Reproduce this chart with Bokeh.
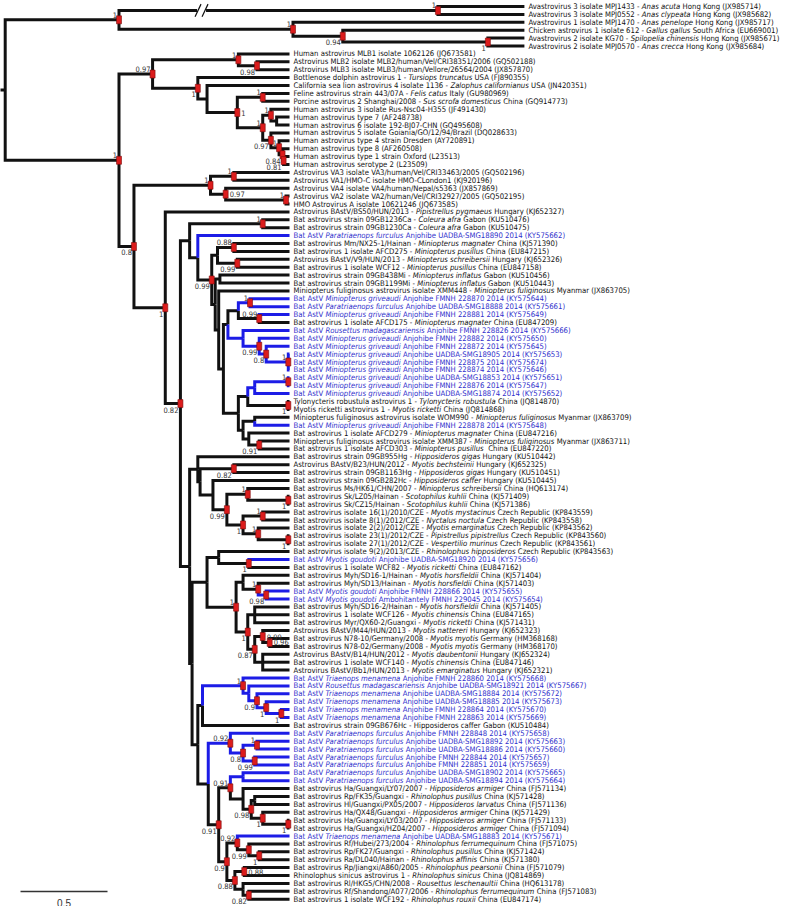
import os
import subprocess
from bokeh.plotting import figure
from bokeh.models import Range1d, ColumnDataSource
from bokeh.embed import file_html
from bokeh.resources import INLINE
from bokeh.core.properties import value

# ------------------------------------------------------------------ data
# tip labels (text between * * is the italic host species)
avian_labels = [
    "Avastrovirus 3 isolate MPJ1433 - *Anas acuta* Hong Kong (JX985714)",
    "Avastrovirus 3 isolate MPJ0552 - *Anas clypeata* Hong Kong (JX985682)",
    "Avastrovirus 1 isolate MPJ1470 - *Anas penelope* Hong Kong (JX985717)",
    "Chicken astrovirus 1 isolate 612 - *Gallus gallus* South Africa (EU669001)",
    "Avastrovirus 2 isolate KG70 - *Spilopelia chinensis* Hong Kong (JX985671)",
    "Avastrovirus 2 isolate MPJ0570 - *Anas crecca* Hong Kong (JX985684)",
]
classic_labels = [
    "Human astrovirus MLB1 isolate 1062126 (JQ673581)",
    "Astrovirus MLB2 isolate MLB2/human/Vel/CRI38351/2006 (GQ502188)",
    "Astrovirus MLB3 isolate MLB3/human/Vellore/26564/2004 (JX857870)",
    "Bottlenose dolphin astrovirus 1 - *Tursiops truncatus* USA (FJ890355)",
    "California sea lion astrovirus 4 isolate 1136 - *Zalophus californianus* USA (JN420351)",
    "Feline astrovirus strain 443/07A - *Felis catus* Italy (GU980969)",
    "Porcine astrovirus 2 Shanghai/2008 - *Sus scrofa domesticus* China (GQ914773)",
    "Human astrovirus 3 isolate Rus-Nsc04-H355 (JF491430)",
    "Human astrovirus type 7 (AF248738)",
    "Human astrovirus 6 isolate 192-BJ07-CHN (GQ495608)",
    "Human astrovirus 5 isolate Goiania/GO/12/94/Brazil (DQ028633)",
    "Human astrovirus type 4 strain Dresden (AY720891)",
    "Human astrovirus type 8 (AF260508)",
    "Human astrovirus type 1 strain Oxford (L23513)",
    "Human astrovirus serotype 2 (L23509)",
    "Astrovirus VA3 isolate VA3/human/Vel/CRI33463/2005 (GQ502196)",
    "Astrovirus VA1/HMO-C isolate HMO-CLondon1 (KJ920196)",
    "Astrovirus VA4 isolate VA4/human/Nepal/s5363 (JX857869)",
    "Astrovirus VA2 isolate VA2/human/Vel/CRI32927/2005 (GQ502195)",
    "HMO Astrovirus A isolate 10621246 (JQ673585)",
]
bat_labels_a = [
    "Astrovirus BAstV/BS50/HUN/2013 - *Pipistrellus pygmaeus* Hungary (KJ652327)",
    "Bat astrovirus strain 09GB1236Ca - *Coleura afra* Gabon (KU510476)",
    "Bat astrovirus strain 09GB1230Ca - *Coleura afra* Gabon (KU510475)",
    "Bat AstV *Paratriaenops furculus* Anjohibe UADBA-SMG18890 2014 (KY575662)",
    "Bat astrovirus Mm/NX25-1/Hainan - *Miniopterus magnater* China (KJ571390)",
    "Bat astrovirus 1 isolate AFCD275 - *Miniopterus pusillus* China (EU847215)",
    "Astrovirus BAstV/V9/HUN/2013 - *Miniopterus schreibersii* Hungary (KJ652326)",
    "Bat astrovirus 1 isolate WCF12 - *Miniopterus pusillus* China (EU847158)",
    "Bat astrovirus strain 09GB438Mi - *Miniopterus inflatus* Gabon (KU510456)",
    "Bat astrovirus strain 09GB1199Mi - *Miniopterus inflatus* Gabon (KU510443)",
    "Miniopterus fuliginosus astrovirus isolate XMM448 - *Miniopterus fuliginosus* Myanmar (JX863705)",
    "Bat AstV *Miniopterus griveaudi* Anjohibe FMNH 228870 2014 (KY575644)",
    "Bat AstV *Paratriaenops furculus* Anjohibe UADBA-SMG18888 2014 (KY575661)",
    "Bat AstV *Miniopterus griveaudi* Anjohibe FMNH 228881 2014 (KY575649)",
    "Bat astrovirus 1 isolate AFCD175 - *Miniopterus magnater* China (EU847209)",
    "Bat AstV *Rousettus madagascariensis* Anjohibe FMNH 228826 2014 (KY575666)",
    "Bat AstV *Miniopterus griveaudi* Anjohibe FMNH 228882 2014 (KY575650)",
    "Bat AstV *Miniopterus griveaudi* Anjohibe FMNH 228872 2014 (KY575645)",
    "Bat AstV *Miniopterus griveaudi* Anjohibe UADBA-SMG18905 2014 (KY575653)",
    "Bat AstV *Miniopterus griveaudi* Anjohibe FMNH 228875 2014 (KY575674)",
    "Bat AstV *Miniopterus griveaudi* Anjohibe FMNH 228874 2014 (KY575646)",
    "Bat AstV *Miniopterus griveaudi* Anjohibe UADBA-SMG18853 2014 (KY575651)",
    "Bat AstV *Miniopterus griveaudi* Anjohibe FMNH 228876 2014 (KY575647)",
    "Bat AstV *Miniopterus griveaudi* Anjohibe UADBA-SMG18874 2014 (KY575652)",
    "Tylonycteris robustula astrovirus 1 - *Tylonycteris robustula* China (JQ814870)",
    "Myotis ricketti astrovirus 1 - *Myotis ricketti* China (JQ814868)",
    "Miniopterus fuliginosus astrovirus isolate WOM990 - *Miniopterus fuliginosus* Myanmar (JX863709)",
    "Bat AstV *Miniopterus griveaudi* Anjohibe FMNH 228878 2014 (KY575648)",
    "Bat astrovirus 1 isolate AFCD279 - *Miniopterus magnater* China (EU847216)",
    "Miniopterus fuliginosus astrovirus isolate XMM387 - *Miniopterus fuliginosus* Myanmar (JX863711)",
    "Bat astrovirus 1 isolate AFCD303 - *Miniopterus pusillus*  China (EU847220)",
]
bat_labels_b = [
    "Bat astrovirus strain 09GB955Hg - *Hipposideros gigas* Hungary (KU510442)",
    "Astrovirus BAstV/B23/HUN/2012 - *Myotis bechsteinii* Hungary (KJ652325)",
    "Bat astrovirus strain 09GB1163Hg - *Hipposideros gigas* Hungary (KU510451)",
    "Bat astrovirus strain 09GB282Hc - *Hipposideros caffer* Hungary (KU510445)",
    "Bat astrovirus Ms/HK61/CHN/2007 - *Miniopterus schreibersii* China (HQ613174)",
    "Bat astrovirus Sk/LZ05/Hainan - *Scotophilus kuhlii* China (KJ571409)",
    "Bat astrovirus Sk/CZ15/Hainan - *Scotophilus kuhlii* China (KJ571386)",
    "Bat astrovirus isolate 16(1)/2010/CZE - *Myotis mystacinus* Czech Republic (KP843559)",
    "Bat astrovirus isolate 8(1)/2012/CZE - *Nyctalus noctula* Czech Republic (KP843558)",
    "Bat astrovirus isolate 2(2)/2012/CZE - *Myotis emarginatus* Czech Republic (KP843562)",
    "Bat astrovirus isolate 23(1)/2012/CZE - *Pipistrellus pipistrellus* Czech Republic (KP843560)",
    "Bat astrovirus isolate 27(1)/2012/CZE - *Vespertilio murinus* Czech Republic (KP843561)",
    "Bat astrovirus isolate 9(2)/2013/CZE - *Rhinolophus hipposideros* Czech Republic (KP843563)",
    "Bat AstV *Myotis goudoti* Anjohibe UADBA-SMG18920 2014 (KY575656)",
    "Bat astrovirus 1 isolate WCF82 - *Myotis ricketti* China (EU847162)",
    "Bat astrovirus Myh/SD16-1/Hainan - *Myotis horsfieldii* China (KJ571404)",
    "Bat astrovirus Myh/SD13/Hainan - *Myotis horsfieldii* China (KJ571403)",
    "Bat AstV *Myotis goudoti* Anjohibe FMNH 228866 2014 (KY575655)",
    "Bat AstV *Myotis goudoti* Ambohitantely FMNH 229045 2014 (KY575654)",
    "Bat astrovirus Myh/SD16-2/Hainan - *Myotis horsfieldii* China (KJ571405)",
    "Bat astrovirus 1 isolate WCF126 - *Myotis chinensis* China (EU847165)",
    "Bat astrovirus Myr/QX60-2/Guangxi - *Myotis ricketti* China (KJ571431)",
    "Astrovirus BAstV/M44/HUN/2013 - *Myotis nattereri* Hungary (KJ652323)",
    "Bat astrovirus N78-10/Germany/2008 - *Myotis myotis* Germany (HM368168)",
    "Bat astrovirus N78-02/Germany/2008 - *Myotis myotis* Germany (HM368170)",
    "Astrovirus BAstV/B14/HUN/2012 - *Myotis daubentonii* Hungary (KJ652324)",
    "Bat astrovirus 1 isolate WCF140 - *Myotis chinensis* China (EU847146)",
    "Astrovirus BAstV/Bb1/HUN/2013 - *Myotis emarginatus* Hungary (KJ652321)",
]
bat_labels_c = [
    "Bat AstV *Triaenops menamena* Anjohibe FMNH 228860 2014 (KY575668)",
    "Bat AstV *Rousettus madagascariensis* Anjohibe UADBA-SMG18921 2014 (KY575667)",
    "Bat AstV *Triaenops menamena* Anjohibe UADBA-SMG18884 2014 (KY575672)",
    "Bat AstV *Triaenops menamena* Anjohibe UADBA-SMG18885 2014 (KY575673)",
    "Bat AstV *Triaenops menamena* Anjohibe FMNH 228864 2014 (KY575670)",
    "Bat AstV *Triaenops menamena* Anjohibe FMNH 228863 2014 (KY575669)",
    "Bat astrovirus strain 09GB676Hc - Hipposideros caffer Gabon (KU510484)",
    "Bat AstV *Paratriaenops furculus* Anjohibe FMNH 228848 2014 (KY575658)",
    "Bat AstV *Paratriaenops furculus* Anjohibe UADBA-SMG18892 2014 (KY575663)",
    "Bat AstV *Paratriaenops furculus* Anjohibe UADBA-SMG18886 2014 (KY575660)",
    "Bat AstV *Paratriaenops furculus* Anjohibe FMNH 228844 2014 (KY575657)",
    "Bat AstV *Paratriaenops furculus* Anjohibe FMNH 228851 2014 (KY575659)",
    "Bat AstV *Paratriaenops furculus* Anjohibe UADBA-SMG18902 2014 (KY575665)",
    "Bat AstV *Paratriaenops furculus* Anjohibe UADBA-SMG18894 2014 (KY575664)",
    "Bat astrovirus Ha/Guangxi/LY07/2007 - *Hipposideros armiger* China (FJ571134)",
    "Bat astrovirus Rp/FK35/Guangxi - *Rhinolophus pusillus* China (KJ571428)",
    "Bat astrovirus Hl/Guangxi/PX05/2007 - *Hipposideros larvatus* China (FJ571136)",
    "Bat astrovirus Ha/QX48/Guangxi - *Hipposideros armiger* China (KJ571429)",
    "Bat astrovirus Ha/Guangxi/LY03/2007 - *Hipposideros armiger* China (FJ571133)",
    "Bat astrovirus Ha/Guangxi/HZ04/2007 - *Hipposideros armiger* China (FJ571094)",
    "Bat AstV *Triaenops menamena* Anjohibe UADBA-SMG18883 2014 (KY575671)",
    "Bat astrovirus Rf/Hubei/273/2004 - *Rhinolophus ferrumequinum* China (FJ571075)",
    "Bat astrovirus Rp/FK27/Guangxi - *Rhinolophus pusillus* China (KJ571424)",
    "Bat astrovirus Ra/DL040/Hainan - *Rhinolophus affinis* China (KJ571380)",
    "Bat astrovirus Rp/Jiangxi/A860/2005 - *Rhinolophus pearsonii* China (FJ571079)",
    "Rhinolophus sinicus astrovirus 1 - *Rhinolophus sinicus* China (JQ814869)",
    "Bat astrovirus Rl/HKG5/CHN/2008 - *Rousettus leschenaultii* China (HQ613178)",
    "Bat astrovirus Rf/Shandong/A077/2006 - *Rhinolophus ferrumequinum* China (FJ571083)",
    "Bat astrovirus 1 isolate WCF192 - *Rhinolophus rouxii* China (EU847174)",
]

# tip depths (substitutions/site, measured with the 0.5 scale bar)
avian_tip_depth = 3.06
mammal_tip_depth = 1.707

# internal nodes: (id, depth, children, posterior, label side)
# children: int = tip number (1-based, top to bottom), str = node id
avian_nodes = [
    ("R", 0.073, ["AV", "MA"], "", ""),
    ("AV", 0.727, ["AV3", "AV12"], "1", "a"),
    ("AV3", 2.560, [1, 2], "1", "a"),
    ("AV12", 1.727, [3, "AV094"], "1", "a"),
    ("AV094", 2.013, [4, "AV2"], "0.94", "b"),
    ("AV2", 2.847, [5, 6], "1", "b"),
]
classic_nodes = [
    ("MA", 0.727, ["C097", "C08"], "1", "a"),
    ("C097", 0.920, ["MLB", "CA"], "0.97", "a"),
    ("MLB", 1.413, [7, "MLB23"], "1", "a"),
    ("MLB23", 1.520, [8, 9], "0.98", "b"),
    ("CA", 1.180, [10, "CB"], "1", "b"),
    ("CB", 1.233, [11, "CC"], "", ""),
    ("CC", 1.407, ["CD", "CE"], "1", "r"),
    ("CD", 1.553, [12, 13], "1", "a"),
    ("CE", 1.553, ["CF", "CH"], "1", "a"),
    ("CF", 1.600, [14, "CG"], "1", "a"),
    ("CG", 1.633, [15, 16], "", ""),
    ("CH", 1.600, [17, "CI"], "0.97", "b"),
    ("CI", 1.647, [18, "CJ"], "1", "a"),
    ("CJ", 1.667, [19, "CK"], "0.84", "b"),
    ("CK", 1.673, [20, 21], "0.81", "b"),
]
va_nodes = [
    ("C08", 0.813, ["VA", "B1"], "0.8", "b"),
    ("VA", 1.253, ["VA31", "VA097"], "1", "a"),
    ("VA31", 1.387, [22, 23], "1", "a"),
    ("VA097", 1.340, [24, "VA2H"], "0.97", "r"),
    ("VA2H", 1.687, [25, 26], "1", "a"),
    ("B1", 0.993, [27, "B082"], "1", "b"),
    ("B082", 1.080, ["BU", "BL"], "0.82", "b"),
]
mini_nodes = [
    ("BU", 1.133, ["COL", "BZ"], "", ""),
    ("COL", 1.553, [28, 29], "1", "a"),
    ("BZ", 1.180, [30, "B099a"], "", ""),
    ("B099a", 1.260, ["BQ", "BR2"], "0.99", "b"),
    ("BQ", 1.293, ["B088", "B099b"], "", ""),
    ("B088", 1.387, [31, 32], "0.88", "a"),
    ("B099b", 1.407, [33, 34], "0.99", "b"),
    ("BR2", 1.280, ["BR", "BT"], "", ""),
    ("BR", 1.307, [35, 36], "", ""),
    ("BT", 1.300, [37, "BT2"], "", ""),
    ("BT2", 1.327, ["BA", "BD"], "", ""),
    ("BA", 1.353, ["BB", "BC"], "", ""),
    ("BB", 1.413, ["X3839", "X4041"], "", ""),
    ("X3839", 1.480, [38, 39], "1", "a"),
    ("X4041", 1.533, [40, 41], "0.99", "a"),
    ("BC", 1.440, [42, "X099"], "", ""),
    ("X099", 1.533, [43, "X08"], "0.99", "b"),
    ("X08", 1.573, [44, "X1"], "0.8", "b"),
    ("X1", 1.700, [45, 46, 47], "1", "a"),
    ("BD", 1.413, ["BK", "BE"], "", ""),
    ("BK", 1.467, ["BJ", "BL2"], "", ""),
    ("BJ", 1.507, ["BI", 50], "", ""),
    ("BI", 1.700, [48, 49], "1", "a"),
    ("BL2", 1.700, [51, 52], "1", "b"),
    ("BE", 1.440, ["BF", "BG"], "", ""),
    ("BF", 1.507, [53, 54], "", ""),
    ("BG", 1.473, [55, "X091"], "", ""),
    ("X091", 1.533, [56, 57], "0.91", "b"),
]
hipp_nodes = [
    ("BL", 1.133, ["Y1", "Y2"], "", ""),
    ("Y1", 1.180, [58, "Y1b"], "", ""),
    ("Y1b", 1.193, ["B082b", "Y1c"], "", ""),
    ("B082b", 1.387, [59, 60], "0.82", "b"),
    ("Y1c", 1.267, [61, "X099e"], "", ""),
    ("X099e", 1.347, ["X1a", "X1c"], "0.99", "b"),
    ("X1a", 1.467, [62, "X1b"], "1", "a"),
    ("X1b", 1.700, [63, 64], "1", "b"),
    ("X1c", 1.440, ["X1d", "X1e"], "1", "b"),
    ("X1d", 1.553, [65, 66], "1", "a"),
    ("X1e", 1.527, [67, "X1f"], "1", "a"),
    ("X1f", 1.700, [68, 69], "1", "b"),
]
myotis_nodes = [
    ("Y2", 1.147, ["Y2a", "Y2b"], "", ""),
    ("Y2a", 1.233, ["Y70", "X244"], "", ""),
    ("Y70", 1.300, [70, "X1i"], "", ""),
    ("X1i", 1.473, [71, 72], "1", "b"),
    ("X244", 1.400, ["X251", "X1g"], "1", "a"),
    ("X251", 1.440, [73, "X266"], "", ""),
    ("X266", 1.527, [74, "X098"], "1", "a"),
    ("X098", 1.573, [75, 76], "0.98", "b"),
    ("X1g", 1.467, ["X77g", "X087"], "1", "b"),
    ("X77g", 1.507, [77, 78, 79], "", ""),
    ("X087", 1.507, ["X099c", "X83g"], "0.87", "b"),
    ("X099c", 1.553, [80, "X096"], "0.99", "r"),
    ("X096", 1.593, [81, 82], "0.96", "r"),
    ("X83g", 1.553, [83, 84, 85], "", ""),
]
rhino_nodes = [
    ("Y2b", 1.180, ["XT0", "Ya"], "", ""),
    ("XT0", 1.207, ["XT1", 92], "", ""),
    ("XT1", 1.440, [86, "XT3"], "1", "a"),
    ("XT3", 1.473, [87, "XT4"], "", ""),
    ("XT4", 1.520, [88, "XT5"], "0.9", "b"),
    ("XT5", 1.573, [89, "XT6"], "1", "b"),
    ("XT6", 1.660, [90, 91], "1", "b"),
    ("Ya", 1.240, ["X092p", "Yb"], "", ""),
    ("X092p", 1.367, [93, "X08p"], "0.92", "a"),
    ("X08p", 1.440, ["X1p", "X099p"], "0.8", "b"),
    ("X1p", 1.520, [94, 95], "1", "a"),
    ("X099p", 1.507, [96, 97], "0.99", "b"),
    ("Yb", 1.300, ["X091p", "X09"], "0.91", "b"),
    ("X091p", 1.367, ["X9899", "XH"], "0.91", "a"),
    ("X9899", 1.440, [98, 99], "", ""),
    ("XH", 1.440, [100, "X098h"], "", ""),
    ("X098h", 1.487, ["Xh12", "X1h2"], "0.98", "b"),
    ("Xh12", 1.507, [101, 102], "", ""),
    ("X1h2", 1.553, [103, "X1h3"], "1", "b"),
    ("X1h3", 1.700, [104, 105], "1", "b"),
    ("X09", 1.347, ["X092q", "X088b"], "0.9", "b"),
    ("X092q", 1.407, [106, "X099q"], "0.92", "a"),
    ("X099q", 1.473, [107, "X1q"], "0.99", "b"),
    ("X1q", 1.533, [108, 109], "1", "b"),
    ("X088b", 1.393, ["X088a", "Xq"], "0.88", "b"),
    ("X088a", 1.447, [110, 111], "0.88", "r"),
    ("Xq", 1.440, [112, "X082"], "", ""),
    ("X082", 1.473, [113, 114], "0.82", "b"),
]

break_depth = 1.187         # "//" on the shortened avastrovirus 3 branch
scale_bar_start = 0.161
scale_bar_length = 0.5
scale_bar_label = "0.5"

# ------------------------------------------------------------------ layout constants
W, H = 782, 906
PX_PER_UNIT = 174.0
PX_PER_TIP = 7.9
TOP_PAD = 6.0
X0 = 8.0 / PX_PER_UNIT
X1 = X0 + W / PX_PER_UNIT
Y_TOP = -TOP_PAD / PX_PER_TIP
Y_BOT = (H - TOP_PAD) / PX_PER_TIP

BLACK = "#111111"
BLUE_LINE = "#1c1ce6"
BLUE_TEXT = "#3030cc"
RED = "#dc1c1c"


def pick_font():
    fams = ""
    try:
        fams = subprocess.run(["fc-list", ":", "family"], capture_output=True,
                              text=True, timeout=20).stdout
    except Exception:
        pass
    for fam, size in [("Liberation Sans Narrow", 9.4), ("DejaVu Sans Condensed", 7.7)]:
        if fam in fams:
            return fam, size
    return "Liberation Sans", 7.9


def font_file(fam, italic):
    pat = fam + (":italic" if italic else ":regular")
    try:
        path = subprocess.run(["fc-match", "-f", "%{file}", pat], capture_output=True,
                              text=True, timeout=20).stdout.strip()
        if path and os.path.exists(path):
            return path
    except Exception:
        pass
    return None


def make_measure(path, size):
    if path:
        try:
            from PIL import ImageFont
            f = ImageFont.truetype(path, int(round(size * 20)))
            return lambda s: f.getlength(s) / 20.0
        except Exception:
            pass
    return lambda s: len(s) * size * 0.43


FONT, FSIZE = pick_font()
w_reg = make_measure(font_file(FONT, False), FSIZE)
w_ita = make_measure(font_file(FONT, True), FSIZE)

# ------------------------------------------------------------------ tree geometry
all_labels = avian_labels + classic_labels + bat_labels_a + bat_labels_b + bat_labels_c
n_avian = len(avian_labels)
nodes = {}
for grp in (avian_nodes, classic_nodes, va_nodes, mini_nodes, hipp_nodes, myotis_nodes, rhino_nodes):
    for nd in grp:
        nodes[nd[0]] = nd

LABEL_GAP = 4.0
max_av = 0.0
for lab in avian_labels:
    parts = lab.split("*")
    max_av = max(max_av, sum((w_ita if j % 2 else w_reg)(pt) for j, pt in enumerate(parts)))
av_tip = min(avian_tip_depth, (W + 8 - 3 - LABEL_GAP - max_av) / PX_PER_UNIT)


def tip_depth(i):
    return av_tip if i <= n_avian else mammal_tip_depth


def is_blue_tip(i):
    return all_labels[i - 1].startswith("Bat AstV")


memo = {}


def info(k):
    if k in memo:
        return memo[k]
    if isinstance(k, int):
        r = (tip_depth(k), float(k - 1), is_blue_tip(k))
    else:
        _, d, kids, _, _ = nodes[k]
        ch = [info(c) for c in kids]
        ys = [c[1] for c in ch]
        r = (d, (min(ys) + max(ys)) / 2.0, all(c[2] for c in ch))
    memo[k] = r
    return r


info("R")
seen = sorted(k for k in memo if isinstance(k, int))
assert seen == list(range(1, len(all_labels) + 1)), "tips missing"

black_xs, black_ys, blue_xs, blue_ys = [], [], [], []
for nid, (_, d, kids, sup, side) in nodes.items():
    _, y, _ = info(nid)
    for c in kids:
        cd, cy, cb = info(c)
        xs, ys = [d, d, cd], [y, cy, cy]
        if cb:
            blue_xs.append(xs); blue_ys.append(ys)
        else:
            black_xs.append(xs); black_ys.append(ys)

p = figure(width=W, height=H, x_range=Range1d(X0, X1), y_range=Range1d(Y_BOT, Y_TOP),
           output_backend="svg", toolbar_location=None, min_border=0,
           x_axis_location=None, y_axis_location=None)
p.grid.visible = False
p.outline_line_color = None
p.background_fill_color = "white"
p.border_fill_color = "white"

rd, ry, _ = info("R")
p.segment(x0=[X0 - 0.05], y0=[ry], x1=[rd], y1=[ry], line_color=BLACK, line_width=3)

p.multi_line(xs=black_xs, ys=black_ys, line_color=BLACK, line_width=3,
             line_join="miter", line_cap="butt")
p.multi_line(xs=blue_xs, ys=blue_ys, line_color=BLUE_LINE, line_width=3,
             line_join="miter", line_cap="butt")

# break marks: px offsets converted to data units
_, by3, _ = info("AV3")
u = 1.0 / PX_PER_UNIT
p.segment(x0=[break_depth - 2 * u], y0=[by3], x1=[break_depth + 7 * u], y1=[by3],
          line_color="white", line_width=5)
p.segment(x0=[break_depth - 4 * u, break_depth + 3 * u], y0=[by3 + 0.8, by3 + 0.8],
          x1=[break_depth + 2 * u, break_depth + 9 * u], y1=[by3 - 0.8, by3 - 0.8],
          line_color=BLACK, line_width=1.2)

mx, my = [], []
lab_src = {"a": dict(x=[], y=[], t=[]), "b": dict(x=[], y=[], t=[]), "r": dict(x=[], y=[], t=[])}
for nid, (_, d, kids, sup, side) in nodes.items():
    if not sup:
        continue
    _, y, _ = info(nid)
    mx.append(d); my.append(y)
    lab_src[side]["x"].append(d); lab_src[side]["y"].append(y); lab_src[side]["t"].append(sup)

p.rect(x=mx, y=my, width=5, height=8, width_units="screen", height_units="screen",
       fill_color=RED, line_color="#7a0c0c", line_width=0.6)

NFS = value("7.5px")
p.text(x="x", y="y", text="t", source=ColumnDataSource(lab_src["a"]), x_offset=-2, y_offset=-2,
       text_align="right", text_baseline="bottom", text_font=value(FONT), text_font_size=NFS,
       text_color="#333333")
p.text(x="x", y="y", text="t", source=ColumnDataSource(lab_src["b"]), x_offset=-2, y_offset=3,
       text_align="right", text_baseline="top", text_font=value(FONT), text_font_size=NFS,
       text_color="#333333")
p.text(x="x", y="y", text="t", source=ColumnDataSource(lab_src["r"]), x_offset=4, y_offset=0,
       text_align="left", text_baseline="middle", text_font=value(FONT), text_font_size=NFS,
       text_color="#333333")

runs = {False: dict(x=[], y=[], t=[], o=[], c=[]), True: dict(x=[], y=[], t=[], o=[], c=[])}
for i, lab in enumerate(all_labels, start=1):
    x, y, _ = info(i)
    col = BLUE_TEXT if is_blue_tip(i) else BLACK
    off = LABEL_GAP
    for j, part in enumerate(lab.split("*")):
        if not part:
            continue
        ital = (j % 2 == 1)
        meas = w_ita if ital else w_reg
        lead = len(part) - len(part.lstrip(" "))
        off += meas(" " * lead) if lead else 0.0
        core = part.strip(" ")
        r = runs[ital]
        r["x"].append(x); r["y"].append(y); r["t"].append(core); r["o"].append(off); r["c"].append(col)
        off += meas(part.lstrip(" "))

for ital, r in runs.items():
    p.text(x="x", y="y", text="t", x_offset="o", text_color="c", source=ColumnDataSource(r),
           text_align="left", text_baseline="middle", text_font=value(FONT),
           text_font_size=value(f"{FSIZE}px"), text_font_style="italic" if ital else "normal")

sb_y = (899 - 8 - TOP_PAD) / PX_PER_TIP
p.segment(x0=[scale_bar_start], y0=[sb_y], x1=[scale_bar_start + scale_bar_length], y1=[sb_y],
          line_color="#333333", line_width=1.5)
p.text(x=[scale_bar_start + scale_bar_length / 2], y=[sb_y + 1.4], text=[scale_bar_label],
       text_align="center", text_baseline="middle", text_font=value("Liberation Sans"),
       text_font_size=value("10px"), text_color="#333333")

open("out.html", "w").write(file_html(p, INLINE))
